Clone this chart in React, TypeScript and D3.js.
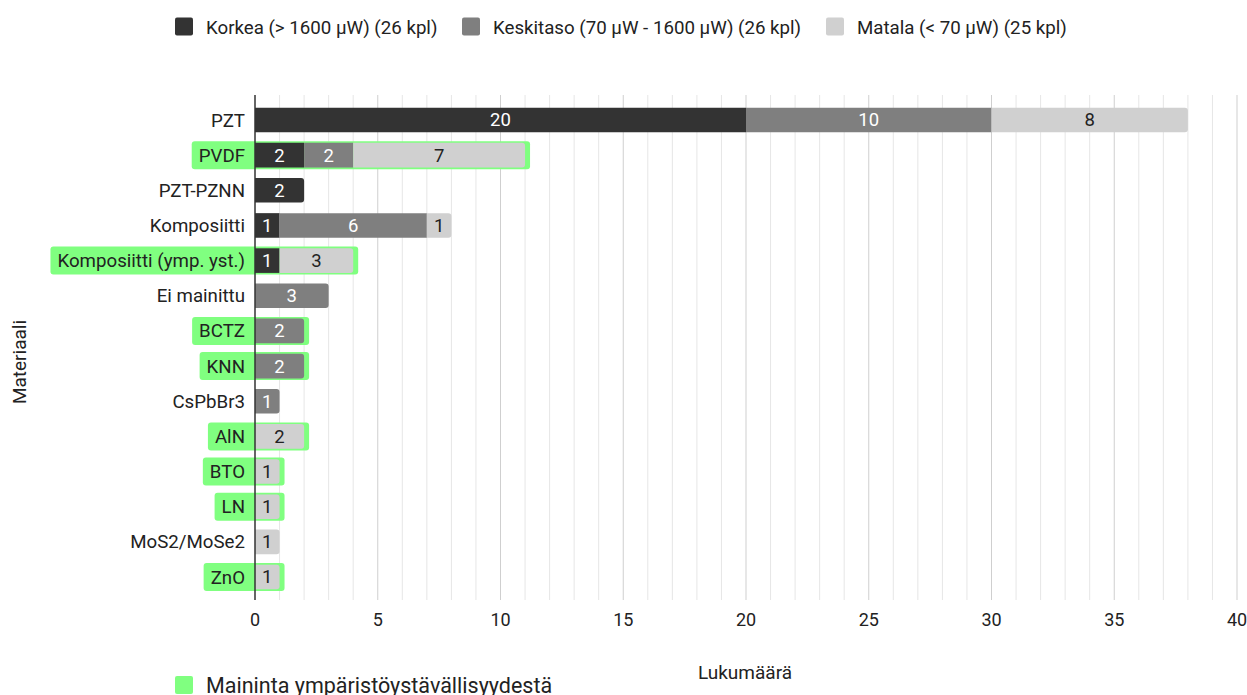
import React, { useEffect, useRef } from "react";
import * as d3 from "d3";

const categories = ["PZT", "PVDF", "PZT-PZNN", "Komposiitti", "Komposiitti (ymp. yst.)", "Ei mainittu", "BCTZ", "KNN", "CsPbBr3", "AlN", "BTO", "LN", "MoS2/MoSe2", "ZnO"];
const highValues = [20, 2, 2, 1, 1, 0, 0, 0, 0, 0, 0, 0, 0, 0];
const midValues = [10, 2, 0, 6, 0, 3, 2, 2, 1, 0, 0, 0, 0, 0];
const lowValues = [8, 7, 0, 1, 3, 0, 0, 0, 0, 2, 1, 1, 1, 1];
const ecoMention = [false, true, false, false, true, false, true, true, false, true, true, true, false, true];
const seriesNames = ["Korkea (> 1600 µW) (26 kpl)", "Keskitaso (70 µW - 1600 µW) (26 kpl)", "Matala (< 70 µW) (25 kpl)"];
const seriesColors = ["#333333", "#7f7f7f", "#d0d0d0"];
const labelColors = ["#ffffff", "#ffffff", "#222222"];
const xTicks = [0, 5, 10, 15, 20, 25, 30, 35, 40];
const ecoLabel = "Maininta ympäristöystävällisyydestä";
const ecoColor = "#80ff80";

export default function App() {
  const ref = useRef<SVGSVGElement>(null);
  useEffect(() => {
    const svg = d3.select(ref.current);
    svg.selectAll("*").remove();
    const font = "Roboto, 'Noto Sans', sans-serif";
    const x = d3.scaleLinear().domain([0, 40]).range([255, 1237]);
    const y = d3.scaleBand<string>().domain(categories).range([102.4, 594.6]).paddingInner(0.3).paddingOuter(0.15);
    const gTop = 95, gBottom = 600;

    // gridlines
    const grid = svg.append("g");
    d3.range(1, 41).forEach((v) => {
      grid.append("line").attr("x1", x(v)).attr("x2", x(v)).attr("y1", gTop).attr("y2", gBottom)
        .attr("stroke", v % 5 === 0 ? "#cfcfcf" : "#e6e6e6").attr("stroke-width", 1);
    });

    // labels + green boxes
    const labelG = svg.append("g");
    const labels = categories.map((c) =>
      labelG.append("text").attr("x", 245).attr("y", (y(c) as number) + y.bandwidth() / 2).attr("dy", "0.35em")
        .attr("text-anchor", "end").attr("font-family", font).attr("font-size", 18.7).attr("fill", "#222").text(c)
    );
    const boxG = svg.insert("g", () => labelG.node() as any);
    categories.forEach((c, i) => {
      if (!ecoMention[i]) return;
      const w = (labels[i].node() as SVGTextElement).getComputedTextLength();
      const total = highValues[i] + midValues[i] + lowValues[i];
      const cy = (y(c) as number) + y.bandwidth() / 2;
      boxG.append("rect").attr("x", 245 - w - 7).attr("y", cy - 14).attr("width", x(total) + 5 - (245 - w - 7)).attr("height", 28)
        .attr("rx", 3).attr("fill", ecoColor);
    });

    // bars
    const barsG = svg.append("g");
    const seriesValues = [highValues, midValues, lowValues];
    categories.forEach((c, i) => {
      const y0 = y(c) as number;
      const h = y.bandwidth();
      let acc = 0;
      const total = highValues[i] + midValues[i] + lowValues[i];
      seriesValues.forEach((vals, s) => {
        const v = vals[i];
        if (v <= 0) return;
        const x0 = x(acc), x1 = x(acc + v);
        const isLast = acc + v === total;
        const r = isLast ? 3 : 0;
        const p = d3.path();
        p.moveTo(x0, y0);
        p.lineTo(x1 - r, y0);
        if (r) p.arcTo(x1, y0, x1, y0 + r, r);
        p.lineTo(x1, y0 + h - r);
        if (r) p.arcTo(x1, y0 + h, x1 - r, y0 + h, r);
        p.lineTo(x0, y0 + h);
        p.closePath();
        barsG.append("path").attr("d", p.toString()).attr("fill", seriesColors[s]);
        barsG.append("text").attr("x", (x0 + x1) / 2).attr("y", y0 + h / 2).attr("dy", "0.35em")
          .attr("text-anchor", "middle").attr("font-family", font).attr("font-size", 18.5).attr("fill", labelColors[s]).text(v);
        acc += v;
      });
    });

    // axis line
    svg.append("line").attr("x1", x(0)).attr("x2", x(0)).attr("y1", gTop).attr("y2", gBottom).attr("stroke", "#333").attr("stroke-width", 1.5);

    // x ticks
    xTicks.forEach((t) => {
      svg.append("text").attr("x", x(t)).attr("y", 620).attr("dy", "0.35em").attr("text-anchor", "middle")
        .attr("font-family", font).attr("font-size", 18).attr("fill", "#222").text(t);
    });

    // axis titles
    svg.append("text").attr("x", 745).attr("y", 672).attr("dy", "0.35em").attr("text-anchor", "middle")
      .attr("font-family", font).attr("font-size", 19).attr("fill", "#222").text("Lukumäärä");
    svg.append("text").attr("transform", "translate(19,362) rotate(-90)").attr("dy", "0.35em").attr("text-anchor", "middle")
      .attr("font-family", font).attr("font-size", 19).attr("fill", "#222").text("Materiaali");

    // top legend
    const legendX = [175, 462, 826];
    const legendTextX = [206, 493, 857];
    seriesNames.forEach((n, s) => {
      svg.append("rect").attr("x", legendX[s]).attr("y", 17.5).attr("width", 18).attr("height", 18).attr("rx", 2).attr("fill", seriesColors[s]);
      svg.append("text").attr("x", legendTextX[s]).attr("y", 27).attr("dy", "0.35em").attr("font-family", font)
        .attr("font-size", 18.7).attr("fill", "#222").text(n);
    });

    // bottom legend
    svg.append("rect").attr("x", 175).attr("y", 676).attr("width", 18).attr("height", 18).attr("rx", 2).attr("fill", ecoColor);
    svg.append("text").attr("x", 206).attr("y", 685).attr("dy", "0.35em").attr("font-family", font)
      .attr("font-size", 21.5).attr("fill", "#222").text(ecoLabel);
  }, []);
  return (
    <svg ref={ref} width={1247} height={695} style={{ position: "absolute", left: 0, top: 0, background: "#fff" }} />
  );
}
